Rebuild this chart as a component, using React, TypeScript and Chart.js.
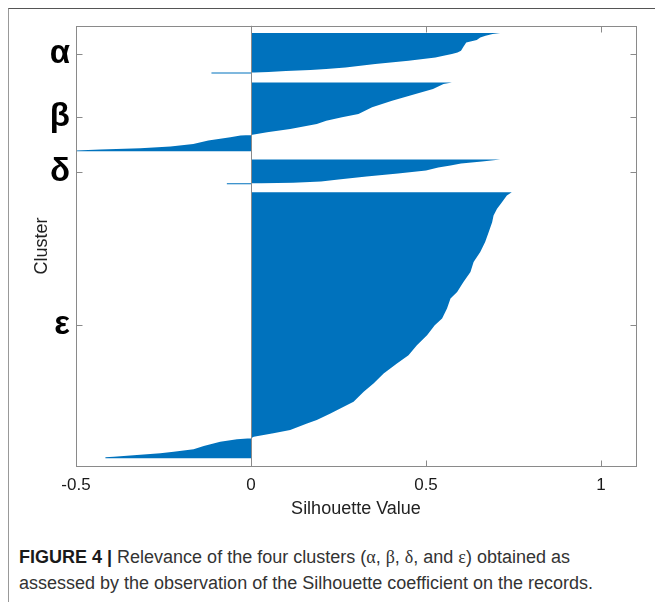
import React, { useEffect, useRef } from 'react';
import { Chart, registerables } from 'chart.js';

Chart.register(...registerables);

// ---- data ----
const clusterLabels = ['α', 'β', 'δ', 'ε'];
const clusterTickRows = [28.3, 91, 146.4, 300];
const xTickValues = [-0.5, 0, 0.5, 1];
const xMin = -0.5;
const xMax = 1.1;
const rowMin = 0;
const rowMax = 441;

// silhouette profile of each cluster: row position (top→bottom) and silhouette value
const alphaRows = [7.3, 8.3, 10, 11.7, 14.3, 16.7, 21, 25, 26.7, 28.3, 30, 31.7, 35, 38.3, 41.7, 43.3, 44.3, 45.3, 46.3, 46.8, 46.8, 47.8];
const alphaValues = [0.712, 0.69, 0.67, 0.655, 0.645, 0.615, 0.607, 0.6, 0.59, 0.574, 0.55, 0.527, 0.45, 0.355, 0.27, 0.215, 0.17, 0.1, 0.05, 0.01, -0.113, -0.113];

const betaRows = [56.7, 58.3, 63.3, 68.3, 75, 81.7, 88.3, 91.7, 95, 98.3, 103.3, 106.7, 109.3, 110, 111.7, 115, 118.3, 121, 122.7, 124, 125, 125.7];
const betaValues = [0.574, 0.55, 0.52, 0.47, 0.403, 0.346, 0.307, 0.26, 0.215, 0.188, 0.112, 0.046, 0, -0.03, -0.059, -0.122, -0.165, -0.23, -0.316, -0.43, -0.5, -0.5];

const deltaRows = [134, 136, 138, 140, 142, 145, 148, 151, 154, 156, 157.3, 157.8, 157.8, 158.8];
const deltaValues = [0.712, 0.66, 0.6, 0.57, 0.535, 0.5, 0.42, 0.33, 0.25, 0.2, 0.12, 0.03, -0.069, -0.069];

const epsilonRows = [166.7, 170, 176.7, 183.3, 190, 196.7, 206.7, 216.7, 226.7, 236.7, 246.7, 256.7, 266.7, 273.3, 283.3, 293.3, 300, 310, 320, 330, 338.3, 348.3, 358.3, 366.7, 376.7, 383.3, 388.3, 395, 398.3, 405, 408.3, 411.7, 413.3, 414.3, 416.7, 421, 424.3, 426.7, 428.3, 430, 431.7, 432.3, 433.3];
const epsilonValues = [0.745, 0.731, 0.717, 0.703, 0.693, 0.689, 0.679, 0.669, 0.655, 0.636, 0.627, 0.607, 0.589, 0.57, 0.56, 0.546, 0.525, 0.503, 0.474, 0.45, 0.417, 0.379, 0.35, 0.322, 0.293, 0.255, 0.227, 0.188, 0.16, 0.112, 0.064, 0.008, 0, -0.04, -0.088, -0.135, -0.164, -0.221, -0.259, -0.326, -0.392, -0.416, -0.416];

const BLUE = '#0072BD';
const AXIS = '#8a8a8a';

function outline(rows: number[], values: number[]) {
  const pts = rows.map((r, i) => ({ x: values[i], y: r }));
  return [{ x: 0, y: rows[0] }, ...pts, { x: 0, y: rows[rows.length - 1] }];
}

const boxPlugin = {
  id: 'matlabBox',
  afterDatasetsDraw(chart: any) {
    const { ctx, chartArea: a, scales } = chart;
    const x = scales.x;
    const y = scales.y;
    const px = (v: number) => Math.round(v) + 0.5;
    ctx.save();
    ctx.strokeStyle = AXIS;
    ctx.lineWidth = 1;
    const x0 = px(x.getPixelForValue(0));
    ctx.beginPath();
    ctx.moveTo(x0, a.top);
    ctx.lineTo(x0, a.bottom);
    ctx.stroke();
    const l = px(a.left), r = px(a.right), t = px(a.top), b = px(a.bottom);
    ctx.strokeRect(l, t, r - l, b - t);
    const L = 6;
    ctx.beginPath();
    x.ticks.forEach((tk: any) => {
      const xx = px(x.getPixelForValue(tk.value));
      ctx.moveTo(xx, b); ctx.lineTo(xx, b - L);
      ctx.moveTo(xx, t); ctx.lineTo(xx, t + L);
    });
    y.ticks.forEach((tk: any) => {
      const yy = px(y.getPixelForValue(tk.value));
      ctx.moveTo(l, yy); ctx.lineTo(l + L, yy);
      ctx.moveTo(r, yy); ctx.lineTo(r - L, yy);
    });
    ctx.stroke();
    ctx.restore();
  },
};

const FONT = '"Liberation Sans", Arial, sans-serif';

export default function App() {
  const ref = useRef<HTMLCanvasElement>(null);
  useEffect(() => {
    if (!ref.current) return;
    const mk = (rows: number[], values: number[]) => ({
      data: outline(rows, values),
      showLine: true,
      fill: 'shape',
      backgroundColor: BLUE,
      borderColor: BLUE,
      borderWidth: 0,
      pointRadius: 0,
      pointHoverRadius: 0,
      indexAxis: 'y',
    });
    const chart = new Chart(ref.current, {
      type: 'scatter',
      data: {
        datasets: [
          mk(alphaRows, alphaValues),
          mk(betaRows, betaValues),
          mk(deltaRows, deltaValues),
          mk(epsilonRows, epsilonValues),
        ] as any,
      },
      options: {
        indexAxis: 'y',
        responsive: false,
        animation: false,
        devicePixelRatio: 1,
        events: [],
        layout: { padding: { left: 0, right: 19, top: 25, bottom: 0 } },
        plugins: { legend: { display: false }, tooltip: { enabled: false } },
        scales: {
          x: {
            type: 'linear',
            position: 'bottom',
            min: xMin,
            max: xMax,
            afterBuildTicks: (s: any) => { s.ticks = xTickValues.map((v) => ({ value: v })); },
            afterFit: (s: any) => { s.height = 64; },
            ticks: {
              callback: (v: any) => String(v),
              font: { family: FONT, size: 17 },
              color: '#1a1a1a',
              padding: 9,
              maxRotation: 0,
              autoSkip: false,
            },
            grid: { display: false, drawTicks: false },
            border: { display: false },
            title: {
              display: true,
              text: 'Silhouette Value',
              font: { family: FONT, size: 18 },
              color: '#222',
              padding: { top: 0, bottom: 10 },
            },
          },
          y: {
            type: 'linear',
            position: 'left',
            reverse: true,
            min: rowMin,
            max: rowMax,
            afterBuildTicks: (s: any) => { s.ticks = clusterTickRows.map((v) => ({ value: v })); },
            afterFit: (s: any) => { s.width = 76; },
            ticks: {
              callback: (_v: any, i: number) => clusterLabels[i],
              font: { family: FONT, size: 33, weight: 'bold' },
              color: '#000',
              padding: 6,
              autoSkip: false,
            },
            grid: { display: false, drawTicks: false },
            border: { display: false },
            title: {
              display: true,
              text: 'Cluster',
              font: { family: FONT, size: 18 },
              color: '#222',
              padding: { top: 31, bottom: 0 },
            },
          },
        },
      } as any,
      plugins: [boxPlugin],
    });
    return () => chart.destroy();
  }, []);

  const serif = { fontFamily: '"Liberation Serif", "Times New Roman", serif' };
  return (
    <div style={{ position: 'absolute', left: 0, top: 0, width: 655, height: 602, fontFamily: FONT, background: '#fff' }}>
      <div style={{ position: 'absolute', left: 8, top: 8, width: 647, height: 594, borderTop: '1px solid #555', borderLeft: '1px solid #999', boxSizing: 'border-box' }} />
      <canvas ref={ref} width={655} height={530} style={{ position: 'absolute', left: 0, top: 0, width: 655, height: 530 }} />
      <div style={{ position: 'absolute', left: 19, top: 544, fontSize: 18, lineHeight: '26px', color: '#333', whiteSpace: 'nowrap' }}>
        <div>
          <b style={{ color: '#1a1a1a' }}>FIGURE 4 |</b> Relevance of the four clusters (<span style={serif}>α</span>, <span style={serif}>β</span>, <span style={serif}>δ</span>, and <span style={serif}>ε</span>) obtained as
        </div>
        <div>assessed by the observation of the Silhouette coefficient on the records.</div>
      </div>
    </div>
  );
}
